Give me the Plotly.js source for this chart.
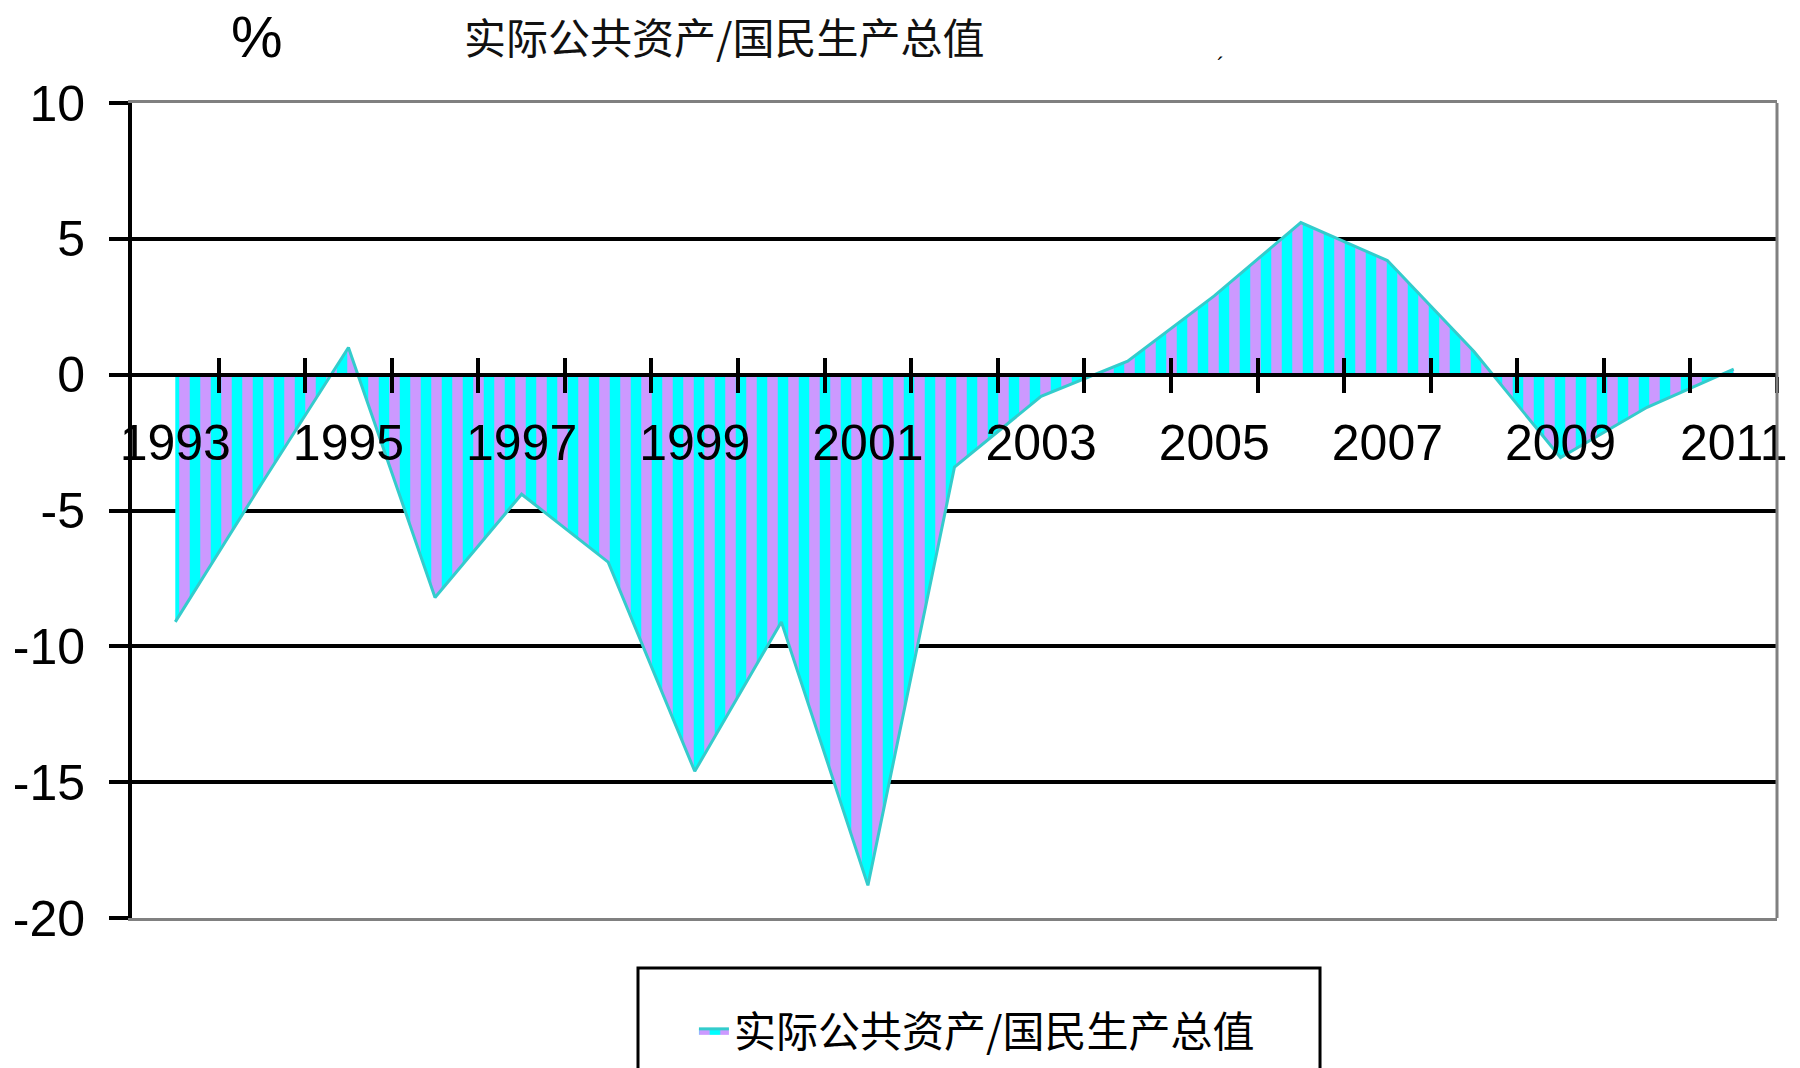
<!DOCTYPE html>
<html>
<head>
<meta charset="utf-8">
<script src="https://cdn.plot.ly/plotly-3.0.1.min.js"></script>
<style>
  html, body { margin: 0; padding: 0; background: #fff; }
  #chart { width: 1800px; height: 1068px; }
</style>
</head>
<body>
<div id="chart"></div>
<script>
// yearly values
const years = [1993, 1994, 1995, 1996, 1997, 1998, 1999, 2000, 2001, 2002,
               2003, 2004, 2005, 2006, 2007, 2008, 2009, 2010, 2011];
const ratio = [-9.1, -4.0, 1.0, -8.2, -4.4, -6.9, -14.6, -9.1, -18.8, -3.4,
               -0.8, 0.5, 2.9, 5.6, 4.2, 0.85, -3.05, -1.2, 0.2];
const labelYears = [1993, 1995, 1997, 1999, 2001, 2003, 2005, 2007, 2009, 2011];
const yTicks = [-20, -15, -10, -5, 0, 5, 10];
const yTickText = ['-20', '-15', '-10', '-5', '0', '5', '10'];
const seriesName = '实际公共资产/国民生产总值';
const unitLabel = '%';

const numFont = 'Liberation Sans, Arial, sans-serif';
const cjkFont = 'Noto Sans CJK SC, sans-serif';

// category boundaries, where the cross ticks sit
const boundaries = years.map(y => y + 0.5);
const xRange = [years[0] - 0.5, years[years.length - 1] + 0.5];

const trace = {
    x: years,
    y: ratio,
    type: 'scatter',
    mode: 'lines',
    name: seriesName,
    fill: 'tozeroy',
    fillpattern: { shape: '|', bgcolor: '#00FFFF', fgcolor: '#CC99FF', size: 21, solidity: 0.5 },
    line: { color: '#33CCCC', width: 3 },
    hoverinfo: 'x+y'
};

// empty traces so the extra axes get drawn
function holder(xa, ya) {
    return { x: years, y: ratio, xaxis: xa, yaxis: ya, type: 'scatter', mode: 'none',
             showlegend: false, hoverinfo: 'skip' };
}

// axis sitting on the zero line
const zeroAxis = {
    overlaying: 'x', anchor: 'free', position: 20 / 30,
    range: xRange, showgrid: false, zeroline: false
};

const layout = {
    width: 1800,
    height: 1068,
    margin: { l: 132, r: 23, t: 103, b: 150, autoexpand: false },
    paper_bgcolor: '#fff',
    plot_bgcolor: '#fff',
    showlegend: true,
    legend: {
        x: 0.3416, xanchor: 'left',
        y: -0.097, yanchor: 'top',
        bgcolor: 'rgba(0,0,0,0)', borderwidth: 0,
        font: { family: cjkFont, size: 42, color: '#000' }
    },
    xaxis: {
        range: xRange, showgrid: false, zeroline: false,
        showline: true, linecolor: '#808080', linewidth: 3, mirror: true,
        ticks: '', showticklabels: false
    },
    xaxis2: Object.assign({}, zeroAxis, {
        tickmode: 'array', tickvals: boundaries,
        ticks: 'outside', ticklen: 16, tickwidth: 4, tickcolor: '#000',
        showline: true, linecolor: '#000', linewidth: 4,
        showticklabels: false
    }),
    xaxis3: Object.assign({}, zeroAxis, {
        tickmode: 'array', tickvals: boundaries,
        ticks: 'inside', ticklen: 17, tickwidth: 4, tickcolor: '#000',
        showline: false, showticklabels: false
    }),
    xaxis4: Object.assign({}, zeroAxis, {
        tickmode: 'array', tickvals: labelYears, ticktext: labelYears.map(String),
        ticks: '', showline: false, showticklabels: true,
        ticklabelstandoff: 34,
        tickfont: { family: numFont, size: 50, color: '#000' }
    }),
    yaxis: {
        range: [-20, 10], tickmode: 'array', tickvals: yTicks, ticktext: yTickText,
        showgrid: true, gridcolor: '#000', gridwidth: 4, zeroline: false,
        showline: true, linecolor: '#000', linewidth: 4,
        ticks: 'outside', ticklen: 19, tickwidth: 4, tickcolor: '#000',
        ticklabelstandoff: 14,
        tickfont: { family: numFont, size: 50, color: '#000' }
    },
    yaxis2: {
        overlaying: 'y', anchor: 'x', side: 'left',
        range: [-20, 10], tickmode: 'array', tickvals: yTicks,
        showgrid: false, zeroline: false, showline: false,
        ticks: 'inside', ticklen: 14, tickwidth: 4, tickcolor: '#000',
        showticklabels: false
    },
    shapes: [
        // right border of the plot area
        { type: 'line', xref: 'paper', yref: 'paper', x0: 1, x1: 1, y0: 0, y1: 1,
          line: { color: '#808080', width: 3 } },
        // legend frame, running off the bottom
        { type: 'rect', xref: 'paper', yref: 'paper',
          x0: 0.3076, x1: 0.7222, y0: -0.0613, y1: -0.25,
          line: { color: '#000', width: 3 }, fillcolor: 'rgba(0,0,0,0)' }
    ],
    annotations: [
        { text: unitLabel, xref: 'paper', yref: 'paper', x: 0.0758, y: 1.124,
          xanchor: 'center', yanchor: 'top', showarrow: false,
          font: { family: numFont, size: 58, color: '#000' } },
        { text: seriesName, xref: 'paper', yref: 'paper', x: 0.36, y: 1.0834,
          xanchor: 'center', yanchor: 'middle', showarrow: false,
          font: { family: cjkFont, size: 42, color: '#111' } },
        { text: '´', xref: 'paper', yref: 'paper', x: 0.6614, y: 1.0466,
          xanchor: 'center', yanchor: 'middle', showarrow: false,
          font: { family: numFont, size: 22, color: '#000' } }
    ]
};

const traces = [trace, holder('x2', 'y'), holder('x3', 'y'), holder('x4', 'y'), holder('x', 'y2')];

Plotly.newPlot('chart', traces, layout, { staticPlot: true })
    .catch((error) => {
        console.error('Error rendering plot:', error);
    });
</script>
</body>
</html>
